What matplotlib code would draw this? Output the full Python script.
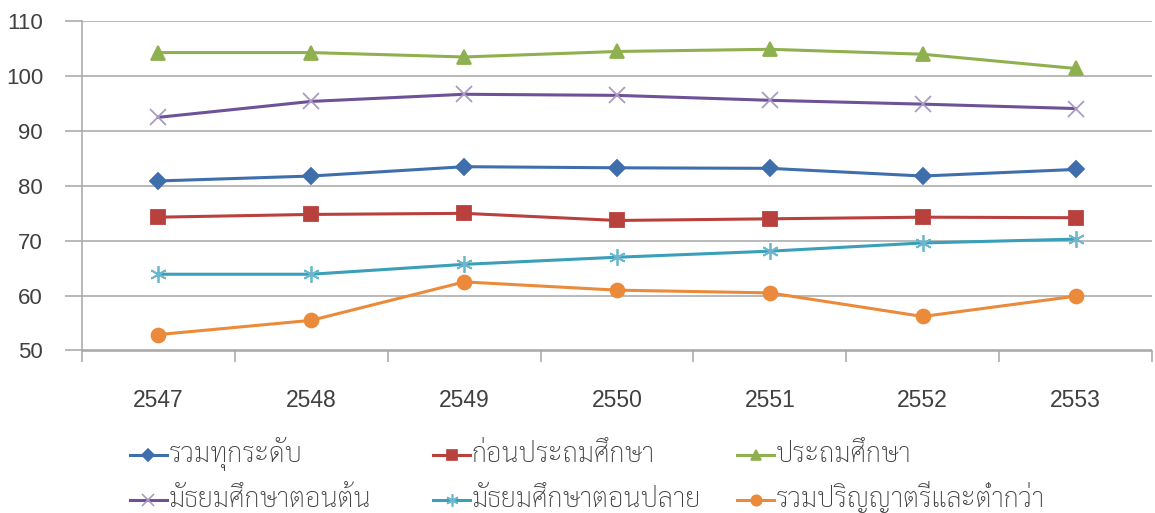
import matplotlib
matplotlib.use('Agg')
import matplotlib.pyplot as plt
from matplotlib.lines import Line2D

# data
years = ['2547', '2548', '2549', '2550', '2551', '2552', '2553']
names = ['รวมทุกระดับ', 'ก่อนประถมศึกษา', 'ประถมศึกษา',
         'มัธยมศึกษาตอนต้น', 'มัธยมศึกษาตอนปลาย', 'รวมปริญญาตรีและต่ำกว่า']
total = [80.9, 81.8, 83.5, 83.3, 83.2, 81.8, 83.0]
preprimary = [74.3, 74.8, 75.0, 73.7, 74.0, 74.3, 74.2]
primary = [104.3, 104.3, 103.5, 104.5, 104.9, 104.0, 101.4]
lower_sec = [92.5, 95.4, 96.7, 96.5, 95.6, 94.9, 94.1]
upper_sec = [63.9, 63.9, 65.7, 67.0, 68.1, 69.6, 70.3]
tertiary = [52.9, 55.5, 62.5, 61.0, 60.5, 56.2, 59.9]

series = [total, preprimary, primary, lower_sec, upper_sec, tertiary]
colors = ['#3F6EAD', '#B8403D', '#8FB04F', '#6E5196', '#3A9FB8', '#EA8A3A']
mcolors = ['#3F6EAD', '#B8403D', '#8FB04F', '#A99BC4', '#6CB7CB', '#EA8A3A']
markers = ['D', 's', '^', 'x', (6, 2, 0), 'o']
msizes = [8, 10, 10, 11, 12, 10]

thai = ['Sarabun', 'DejaVu Sans']
plt.rcParams['font.family'] = ['Liberation Sans', 'Sarabun']

fig = plt.figure(figsize=(11.55, 5.13), dpi=100)
ax = fig.add_axes([82/1155, 1-350.5/513, 1070/1155, (350.5-21.3)/513])

x = list(range(len(years)))
handles = []
for vals, c, mc, m, ms in zip(series, colors, mcolors, markers, msizes):
    h, = ax.plot(x, vals, color=c, lw=2.2, marker=m, ms=ms, mec=mc, mfc=mc,
                 mew=1.3, zorder=3)
    handles.append(h)

ax.set_xlim(-0.5, 6.5)
ax.set_ylim(50, 110)
ax.set_yticks(range(50, 111, 10))
ax.yaxis.grid(True, color='#A6A6A6', lw=1.1)
ax.set_axisbelow(True)

ax.set_xticks([i - 0.5 for i in range(8)])
ax.set_xticklabels([])
ax.set_xticks(x, minor=True)
ax.set_xticklabels(years, minor=True)
ax.tick_params(axis='x', which='major', length=8, color='#A6A6A6', width=1.1)
ax.tick_params(axis='x', which='minor', length=0, pad=28, labelsize=16.5, labelcolor='#404040')
ax.tick_params(axis='y', length=12, color='#A6A6A6', width=1.1, pad=16, labelsize=16, labelcolor='#404040')

for s in ['top', 'right']:
    ax.spines[s].set_visible(False)
for s in ['left', 'bottom']:
    ax.spines[s].set_color('#A6A6A6')
    ax.spines[s].set_linewidth(1.1)

# legend drawn by hand: 3 columns x 2 rows like the Excel layout
col_x = [130, 433, 737]
row_y = [455, 500]
for i, name in enumerate(names):
    cx = col_x[i % 3]
    ry = row_y[i // 3]
    h = handles[i]
    fig.add_artist(Line2D([cx / 1155, (cx + 37) / 1155], [1 - ry / 513] * 2,
                          color=h.get_color(), lw=2.2, transform=fig.transFigure))
    fig.add_artist(Line2D([(cx + 18.5) / 1155], [1 - ry / 513], marker=h.get_marker(),
                          ms=h.get_markersize() * 0.75, mec=h.get_mec(), mfc=h.get_mfc(),
                          mew=1.2, transform=fig.transFigure))
    fig.text((cx + 39) / 1155, 1 - (ry + 7) / 513, name, family=thai, size=19.5,
             weight='light', color='#404040', va='baseline', ha='left')

fig.savefig('out.png', dpi=100)
